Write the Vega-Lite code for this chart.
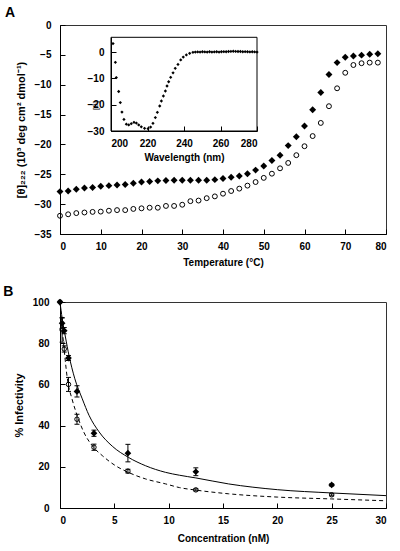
{
  "$schema": "https://vega.github.io/schema/vega-lite/v6.json",
  "padding": {"left": 2, "top": 5, "right": 5, "bottom": 2},
  "spacing": 16,
  "config": {
    "font": "Liberation Sans",
    "view": {"stroke": "#333", "strokeWidth": 1},
    "axis": {
      "grid": false,
      "labelFont": "Liberation Sans",
      "labelFontWeight": "bold",
      "labelFontSize": 10,
      "labelColor": "#000",
      "titleFont": "Liberation Sans",
      "titleFontWeight": "bold",
      "titleFontSize": 10,
      "titleColor": "#000",
      "domainColor": "#000",
      "tickColor": "#000",
      "tickSize": -5,
      "labelPadding": 12
    },
    "title": {"fontSize": 14, "fontWeight": "bold", "anchor": "start", "frame": "bounds", "color": "#000", "font": "Liberation Sans"}
  },
  "datasets": {
    "tempFilled": [
      {"T": 0, "v": -27.9}, {"T": 2, "v": -27.8}, {"T": 4, "v": -27.5}, {"T": 6, "v": -27.3},
      {"T": 8, "v": -27.2}, {"T": 10, "v": -27.0}, {"T": 12, "v": -26.9}, {"T": 14, "v": -26.8},
      {"T": 16, "v": -26.7}, {"T": 18, "v": -26.5}, {"T": 20, "v": -26.3}, {"T": 22, "v": -26.2},
      {"T": 24, "v": -26.1}, {"T": 26, "v": -26.05}, {"T": 28, "v": -26.0}, {"T": 30, "v": -26.0},
      {"T": 32, "v": -26.0}, {"T": 34, "v": -26.0}, {"T": 36, "v": -26.0}, {"T": 38, "v": -25.9},
      {"T": 40, "v": -25.7}, {"T": 42, "v": -25.5}, {"T": 44, "v": -25.3}, {"T": 46, "v": -24.9},
      {"T": 48, "v": -24.3}, {"T": 50, "v": -23.6}, {"T": 52, "v": -22.7}, {"T": 54, "v": -21.8},
      {"T": 56, "v": -20.2}, {"T": 58, "v": -18.7}, {"T": 60, "v": -16.9}, {"T": 62, "v": -14.2},
      {"T": 64, "v": -11.3}, {"T": 66, "v": -8.3}, {"T": 68, "v": -6.3}, {"T": 70, "v": -5.4},
      {"T": 72, "v": -5.2}, {"T": 74, "v": -5.05}, {"T": 76, "v": -4.9}, {"T": 78, "v": -4.8}
    ],
    "tempOpen": [
      {"T": 0, "v": -31.95}, {"T": 2, "v": -31.7}, {"T": 4, "v": -31.5}, {"T": 6, "v": -31.4},
      {"T": 8, "v": -31.3}, {"T": 10, "v": -31.25}, {"T": 12, "v": -31.1}, {"T": 14, "v": -31.0},
      {"T": 16, "v": -31.0}, {"T": 18, "v": -30.8}, {"T": 20, "v": -30.7}, {"T": 22, "v": -30.6},
      {"T": 24, "v": -30.6}, {"T": 26, "v": -30.3}, {"T": 28, "v": -30.3}, {"T": 30, "v": -30.1},
      {"T": 32, "v": -29.5}, {"T": 34, "v": -29.4}, {"T": 36, "v": -29.0}, {"T": 38, "v": -28.7},
      {"T": 40, "v": -28.25}, {"T": 42, "v": -27.8}, {"T": 44, "v": -27.4}, {"T": 46, "v": -26.9},
      {"T": 48, "v": -26.3}, {"T": 50, "v": -25.6}, {"T": 52, "v": -24.9}, {"T": 54, "v": -24.0},
      {"T": 56, "v": -23.1}, {"T": 58, "v": -21.8}, {"T": 60, "v": -20.3}, {"T": 62, "v": -18.6},
      {"T": 64, "v": -16.4}, {"T": 66, "v": -13.6}, {"T": 68, "v": -10.6}, {"T": 70, "v": -8.0},
      {"T": 72, "v": -6.7}, {"T": 74, "v": -6.4}, {"T": 76, "v": -6.3}, {"T": 78, "v": -6.3}
    ],
    "cd": [
      {"nm": 201.1, "v": 3.2}, {"nm": 202.4, "v": -3.9}, {"nm": 202.9, "v": -9.7}, {"nm": 204.2, "v": -15.0},
      {"nm": 205.1, "v": -19.2}, {"nm": 206.0, "v": -22.8}, {"nm": 207.1, "v": -25.6}, {"nm": 208.4, "v": -27.4},
      {"nm": 209.7, "v": -27.7}, {"nm": 211.1, "v": -27.2}, {"nm": 212.6, "v": -26.7}, {"nm": 213.9, "v": -27.0},
      {"nm": 215.2, "v": -27.7}, {"nm": 216.6, "v": -28.4}, {"nm": 218.4, "v": -29.0}, {"nm": 220.3, "v": -29.1},
      {"nm": 221.7, "v": -28.5}, {"nm": 223.0, "v": -27.1}, {"nm": 224.3, "v": -24.9}, {"nm": 225.4, "v": -22.9},
      {"nm": 226.7, "v": -20.5}, {"nm": 227.6, "v": -18.6}, {"nm": 228.7, "v": -16.7}, {"nm": 229.8, "v": -14.8},
      {"nm": 230.7, "v": -12.9}, {"nm": 231.6, "v": -11.3}, {"nm": 232.7, "v": -9.6}, {"nm": 234.0, "v": -7.9},
      {"nm": 235.2, "v": -6.2}, {"nm": 236.7, "v": -4.7}, {"nm": 238.2, "v": -3.0}, {"nm": 239.6, "v": -1.9},
      {"nm": 241.3, "v": -1.1}, {"nm": 243.1, "v": -0.5}, {"nm": 244.9, "v": -0.1}, {"nm": 246.2, "v": 0.0},
      {"nm": 247.5, "v": 0.05}, {"nm": 248.8, "v": 0.0}, {"nm": 250.1, "v": 0.1}, {"nm": 251.4, "v": 0.05},
      {"nm": 252.7, "v": 0.0}, {"nm": 254.0, "v": 0.1}, {"nm": 255.3, "v": 0.0}, {"nm": 256.6, "v": 0.05},
      {"nm": 257.9, "v": 0.1}, {"nm": 259.2, "v": 0.0}, {"nm": 260.5, "v": 0.1}, {"nm": 261.8, "v": 0.15},
      {"nm": 263.1, "v": 0.1}, {"nm": 264.4, "v": 0.2}, {"nm": 265.7, "v": 0.25}, {"nm": 267.0, "v": 0.3},
      {"nm": 268.3, "v": 0.25}, {"nm": 269.6, "v": 0.2}, {"nm": 270.9, "v": 0.2}, {"nm": 272.2, "v": 0.1},
      {"nm": 273.5, "v": 0.15}, {"nm": 274.8, "v": 0.1}, {"nm": 276.1, "v": 0.05}, {"nm": 277.4, "v": 0.1},
      {"nm": 278.7, "v": 0.05}, {"nm": 280.0, "v": 0.0}
    ],
    "inset": [{"box": "inset frame"}],
    "infect": [
      {"s": "closed", "conc": 0, "inf": 100},
      {"s": "closed", "conc": 0.195, "inf": 89.7, "lo": 87.2, "hi": 92.2},
      {"s": "closed", "conc": 0.39, "inf": 86.1, "lo": 84.6, "hi": 87.6},
      {"s": "closed", "conc": 0.78, "inf": 72.8, "lo": 71.6, "hi": 74.0},
      {"s": "closed", "conc": 1.5625, "inf": 56.6, "lo": 53.9, "hi": 59.3},
      {"s": "closed", "conc": 3.125, "inf": 36.3, "lo": 34.8, "hi": 37.8},
      {"s": "closed", "conc": 6.25, "inf": 26.6, "lo": 22.4, "hi": 30.9},
      {"s": "closed", "conc": 12.5, "inf": 17.6, "lo": 15.7, "hi": 19.5},
      {"s": "closed", "conc": 25, "inf": 11.2, "lo": 10.7, "hi": 11.7},
      {"s": "open", "conc": 0, "inf": 100},
      {"s": "open", "conc": 0.195, "inf": 86.5, "lo": 80.5, "hi": 92.5},
      {"s": "open", "conc": 0.39, "inf": 77.2, "lo": 75.7, "hi": 78.7},
      {"s": "open", "conc": 0.78, "inf": 60.0, "lo": 56.6, "hi": 63.4},
      {"s": "open", "conc": 1.5625, "inf": 43.1, "lo": 40.7, "hi": 45.5},
      {"s": "open", "conc": 3.125, "inf": 29.5, "lo": 28.0, "hi": 31.0},
      {"s": "open", "conc": 6.25, "inf": 17.9, "lo": 17.0, "hi": 18.8},
      {"s": "open", "conc": 12.5, "inf": 8.8, "lo": 8.3, "hi": 9.3},
      {"s": "open", "conc": 25, "inf": 6.4, "lo": 5.9, "hi": 6.9}
    ],
    "fitClosed": [
      {"conc": 0, "inf": 100}, {"conc": 0.2, "inf": 92}, {"conc": 0.5, "inf": 83}, {"conc": 0.83, "inf": 74},
      {"conc": 1.35, "inf": 63}, {"conc": 2.05, "inf": 53}, {"conc": 2.67, "inf": 45}, {"conc": 3.59, "inf": 37},
      {"conc": 4.81, "inf": 30}, {"conc": 6.29, "inf": 24.6}, {"conc": 7.88, "inf": 20.5}, {"conc": 9.72, "inf": 17.3},
      {"conc": 11, "inf": 15.9}, {"conc": 12.5, "inf": 14.6}, {"conc": 15.5, "inf": 11.7}, {"conc": 20, "inf": 8.9},
      {"conc": 25, "inf": 7.3}, {"conc": 30, "inf": 6.0}
    ],
    "fitOpen": [
      {"conc": 0, "inf": 100}, {"conc": 0.1, "inf": 93}, {"conc": 0.2, "inf": 87}, {"conc": 0.4, "inf": 76},
      {"conc": 0.67, "inf": 63}, {"conc": 1.13, "inf": 52.5}, {"conc": 1.59, "inf": 44.8}, {"conc": 2.2, "inf": 36.7},
      {"conc": 2.97, "inf": 30.2}, {"conc": 3.9, "inf": 25.4}, {"conc": 5.12, "inf": 20.5}, {"conc": 6.29, "inf": 17.3},
      {"conc": 7.88, "inf": 14.1}, {"conc": 9.72, "inf": 11.7}, {"conc": 11, "inf": 9.9}, {"conc": 12.5, "inf": 8.7},
      {"conc": 15.5, "inf": 6.9}, {"conc": 20, "inf": 5.3}, {"conc": 25, "inf": 4.4}, {"conc": 30, "inf": 3.5}
    ]
  },
  "vconcat": [
    {
      "width": 326,
      "height": 209,
      "title": {"text": "A", "dx": -10, "offset": 0},
      "layer": [
        {
          "encoding": {
            "x": {"field": "T", "type": "quantitative", "scale": {"domain": [0, 80], "nice": false},
                  "axis": {"values": [0, 10, 20, 30, 40, 50, 60, 70, 80], "title": "Temperature (°C)", "titlePadding": 6}},
            "y": {"field": "v", "type": "quantitative", "scale": {"domain": [-35, 0], "nice": false, "zero": false},
                  "axis": {"values": [-35, -30, -25, -20, -15, -10, -5, 0], "title": "[θ]₂₂₂ (10³ deg cm² dmol⁻¹)", "titleFontSize": 11, "labelPadding": 14, "titlePadding": 8}}
          },
          "layer": [
            {"data": {"name": "tempFilled"}, "mark": {"type": "point", "shape": "diamond", "filled": true, "color": "#000", "size": 48, "opacity": 1}},
            {"data": {"name": "tempOpen"}, "mark": {"type": "point", "shape": "circle", "filled": false, "color": "#000", "size": 24, "strokeWidth": 1, "opacity": 1}}
          ]
        },
        {
          "layer": [
            {
              "data": {"name": "inset"},
              "mark": {"type": "rect", "filled": false, "stroke": "#000", "strokeWidth": 1},
              "encoding": {
                "x": {"datum": 200, "type": "quantitative"},
                "x2": {"datum": 280},
                "y": {"datum": -30, "type": "quantitative"},
                "y2": {"datum": 5.6}
              }
            },
            {
              "data": {"name": "cd"},
              "mark": {"type": "point", "shape": "diamond", "filled": true, "color": "#000", "size": 11, "opacity": 1},
              "encoding": {
                "x": {"field": "nm", "type": "quantitative",
                      "scale": {"domain": [200, 280], "range": [51, 197], "nice": false, "zero": false},
                      "axis": {"orient": "bottom", "offset": -103, "values": [200, 220, 240, 260, 280], "title": "Wavelength (nm)", "titlePadding": 4}},
                "y": {"field": "v", "type": "quantitative",
                      "scale": {"domain": [-30, 5.6], "range": [106, 12.3], "nice": false, "zero": false},
                      "axis": {"orient": "left", "offset": -51, "values": [-30, -20, -10, 0], "title": "[θ]", "titleFontSize": 8, "titleFontWeight": "normal", "titleX": -16, "titleY": 80, "titleBaseline": "middle", "titleAngle": -90, "labelPadding": 12}}
              }
            }
          ]
        }
      ],
      "resolve": {"scale": {"x": "independent", "y": "independent"}, "axis": {"x": "independent", "y": "independent"}}
    },
    {
      "width": 326,
      "height": 206,
      "title": {"text": "B", "dx": -10, "offset": -2},
      "layer": [
        {
          "data": {"name": "fitClosed"},
          "mark": {"type": "line", "color": "#000", "strokeWidth": 1, "interpolate": "monotone"},
          "encoding": {
            "x": {"field": "conc", "type": "quantitative", "scale": {"domain": [0, 30], "nice": false},
                  "axis": {"values": [0, 5, 10, 15, 20, 25, 30], "title": "Concentration (nM)", "titlePadding": 8}},
            "y": {"field": "inf", "type": "quantitative", "scale": {"domain": [0, 100], "nice": false},
                  "axis": {"values": [0, 20, 40, 60, 80, 100], "title": "% Infectivity", "titleFontSize": 11, "labelPadding": 16, "titlePadding": 8}}
          }
        },
        {
          "data": {"name": "fitOpen"},
          "mark": {"type": "line", "color": "#000", "strokeWidth": 1, "strokeDash": [4, 3], "interpolate": "monotone"},
          "encoding": {
            "x": {"field": "conc", "type": "quantitative"},
            "y": {"field": "inf", "type": "quantitative"}
          }
        },
        {
          "data": {"name": "infect"},
          "mark": {"type": "rule", "color": "#000", "strokeWidth": 1},
          "encoding": {
            "x": {"field": "conc", "type": "quantitative"},
            "y": {"field": "lo", "type": "quantitative"},
            "y2": {"field": "hi"}
          }
        },
        {
          "data": {"name": "infect"},
          "mark": {"type": "tick", "orient": "horizontal", "color": "#000", "size": 5, "thickness": 1, "opacity": 1},
          "encoding": {
            "x": {"field": "conc", "type": "quantitative"},
            "y": {"field": "lo", "type": "quantitative"}
          }
        },
        {
          "data": {"name": "infect"},
          "mark": {"type": "tick", "orient": "horizontal", "color": "#000", "size": 5, "thickness": 1, "opacity": 1},
          "encoding": {
            "x": {"field": "conc", "type": "quantitative"},
            "y": {"field": "hi", "type": "quantitative"}
          }
        },
        {
          "data": {"name": "infect"},
          "transform": [{"filter": "datum.s === 'closed'"}],
          "mark": {"type": "point", "shape": "diamond", "filled": true, "color": "#000", "size": 45, "opacity": 1},
          "encoding": {
            "x": {"field": "conc", "type": "quantitative"},
            "y": {"field": "inf", "type": "quantitative"}
          }
        },
        {
          "data": {"name": "infect"},
          "transform": [{"filter": "datum.s === 'open'"}],
          "mark": {"type": "point", "shape": "circle", "filled": false, "color": "#000", "size": 20, "strokeWidth": 1, "opacity": 1},
          "encoding": {
            "x": {"field": "conc", "type": "quantitative"},
            "y": {"field": "inf", "type": "quantitative"}
          }
        }
      ]
    }
  ]
}
